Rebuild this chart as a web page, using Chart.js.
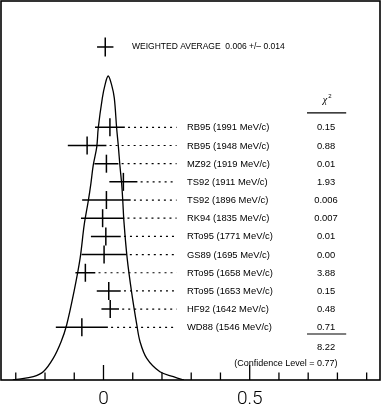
<!DOCTYPE html>
<html><head><meta charset="utf-8">
<script src="https://cdn.jsdelivr.net/npm/chart.js@4.4.0/dist/chart.umd.min.js"></script>
<style>html,body{margin:0;padding:0;background:#fff;overflow:hidden}#wrap{width:381px;height:407px}</style>
</head><body><div id="wrap"><canvas id="c" width="381" height="407"></canvas></div>
<script>
// ---- data ----
const labels = ["RB95 (1991 MeV/c)","RB95 (1948 MeV/c)","MZ92 (1919 MeV/c)","TS92 (1911 MeV/c)","TS92 (1896 MeV/c)","RK94 (1835 MeV/c)","RTo95 (1771 MeV/c)","GS89 (1695 MeV/c)","RTo95 (1658 MeV/c)","RTo95 (1653 MeV/c)","HF92 (1642 MeV/c)","WD88 (1546 MeV/c)"];
const centers = [0.022, -0.056, 0.010, 0.068, 0.010, -0.003, 0.008, 0.002, -0.062, 0.018, 0.023, -0.074];
const errors  = [0.051, 0.066, 0.041, 0.048, 0.083, 0.074, 0.051, 0.077, 0.034, 0.041, 0.030, 0.089];
const chi2    = ["0.15","0.88","0.01","1.93","0.006","0.007","0.01","0.00","3.88","0.15","0.48","0.71"];
const chi2Total = "8.22";
const confidenceText = "(Confidence Level = 0.77)";
const avgCenter = [0.006];
const avgHalfWidth = [0.028];
const avgText = "WEIGHTED AVERAGE  0.006 +/\u2013 0.014";
const curveX = [-0.31,-0.297,-0.240,-0.206,-0.172,-0.145,-0.126,-0.101,-0.080,-0.066,-0.052,-0.043,-0.035,-0.023,-0.018,-0.004,0.005,0.016,0.028,0.037,0.045,0.051,0.056,0.062,0.066,0.070,0.081,0.096,0.114,0.125,0.148,0.193,0.239,0.267,0.275];
const curveY = [0,0.002,0.011,0.027,0.071,0.126,0.181,0.290,0.400,0.510,0.589,0.647,0.707,0.767,0.828,0.927,0.970,1.0,0.970,0.927,0.828,0.767,0.707,0.647,0.589,0.520,0.400,0.290,0.181,0.126,0.071,0.027,0.011,0.002,0];
const tickValues = [-0.3,-0.2,-0.1,0,0.1,0.2,0.3,0.4,0.5,0.6,0.7,0.8,0.9];
const majorTicks = [0, 0.5];
const tickLabels = ["0","0.5"];

// ---- layout constants (positions in axis units) ----
const ROW_AVG = -4.42, LEADER_END = 0.25, LABEL_X = 0.2856, CHI_X = 0.761, CHI_L = 0.696, CHI_R = 0.830;

const bars = [], leaders = [], marks = [];
centers.forEach((c,i)=>{
  bars.push({x:c-errors[i],y:i},{x:c+errors[i],y:i},{x:c+errors[i],y:null});
  leaders.push({x:c+errors[i]+0.011,y:i},{x:LEADER_END,y:i},{x:LEADER_END,y:null});
  marks.push({x:c,y:i});
});
const avgBar = [{x:avgCenter[0]-avgHalfWidth[0],y:ROW_AVG},{x:avgCenter[0]+avgHalfWidth[0],y:ROW_AVG}];

const deco = {
  id:'deco',
  afterDraw(chart){
    const ctx = chart.ctx, a = chart.chartArea, X = chart.scales.x, Y = chart.scales.y;
    ctx.save();
    ctx.strokeStyle = '#000'; ctx.fillStyle = '#000';
    ctx.lineWidth = 1.6;
    ctx.strokeRect(a.left, a.top, a.right - a.left, a.bottom - a.top);
    ctx.lineWidth = 1.3;
    tickValues.forEach(v=>{
      const px = X.getPixelForValue(v);
      const len = majorTicks.includes(v) ? 15 : 7.5;
      ctx.beginPath(); ctx.moveTo(px, a.bottom); ctx.lineTo(px, a.bottom - len); ctx.stroke();
    });
    ctx.textBaseline = 'middle';
    ctx.font = '8.5px "Liberation Sans", Arial, sans-serif';
    ctx.textAlign = 'left';
    ctx.fillText(avgText, X.getPixelForValue(0.0975), Y.getPixelForValue(ROW_AVG));
    ctx.font = '9.4px "Liberation Sans", Arial, sans-serif';
    labels.forEach((l,i)=>{ ctx.fillText(l, X.getPixelForValue(LABEL_X), Y.getPixelForValue(i)+0.5); });
    ctx.textAlign = 'center';
    const cx = X.getPixelForValue(CHI_X);
    chi2.forEach((s,i)=>{ ctx.fillText(s, cx, Y.getPixelForValue(i)+0.5); });
    ctx.fillText(chi2Total, cx, Y.getPixelForValue(12.12));
    ctx.font = '9px "Liberation Sans", Arial, sans-serif';
    ctx.fillText(confidenceText, X.getPixelForValue(0.6237), Y.getPixelForValue(12.98));
    // chi^2 header
    ctx.font = 'italic 10px "Liberation Serif", serif';
    ctx.fillText('\u03c7', cx - 1, Y.getPixelForValue(-1.47));
    ctx.font = '6px "Liberation Sans", Arial, sans-serif';
    ctx.fillText('2', cx + 4, Y.getPixelForValue(-1.72));
    ctx.lineWidth = 1.2;
    [-0.8, 11.37].forEach(r=>{
      const py = Y.getPixelForValue(r);
      ctx.beginPath(); ctx.moveTo(X.getPixelForValue(CHI_L), py); ctx.lineTo(X.getPixelForValue(CHI_R), py); ctx.stroke();
    });
    ctx.restore();
  }
};

new Chart(document.getElementById('c'), {
  type: 'scatter',
  data: { datasets: [
    {type:'line', data: curveX.map((x,i)=>({x, y: curveY[i]})), yAxisID:'y2', borderColor:'#000', borderWidth:1.3, pointRadius:0, tension:0.35, fill:false},
    {type:'line', data: bars, yAxisID:'y', borderColor:'#000', borderWidth:1.5, pointRadius:0, spanGaps:false, tension:0},
    {type:'line', data: leaders, yAxisID:'y', borderColor:'#000', borderWidth:1.2, borderDash:[2,4], pointRadius:0, spanGaps:false, tension:0},
    {type:'scatter', data: marks, yAxisID:'y', pointStyle:'line', rotation:90, radius:9, borderColor:'#000', borderWidth:1.5, backgroundColor:'#000'},
    {type:'line', data: avgBar, yAxisID:'y', borderColor:'#000', borderWidth:1.5, pointRadius:0},
    {type:'scatter', data: [{x:avgCenter[0], y:ROW_AVG}], yAxisID:'y', pointStyle:'line', rotation:90, radius:9.5, borderColor:'#000', borderWidth:1.5}
  ]},
  options: {
    responsive:false, animation:false, devicePixelRatio:1,
    layout:{autoPadding:false, padding:{left:1,right:1,top:1,bottom:0}},
    plugins:{legend:{display:false}, tooltip:{enabled:false}},
    events:[],
    scales:{
      x:{type:'linear', position:'bottom', min:-0.3505, max:0.9456,
        grid:{display:false, drawTicks:false}, border:{display:false},
        afterBuildTicks(s){ s.ticks = majorTicks.map(v=>({value:v})); },
        afterFit(s){ s.height = 27; },
        ticks:{ autoSkip:false, maxRotation:0, padding:8, color:'#000',
          font:{family:'Roboto, "Liberation Sans", sans-serif', size:19, weight:'300'},
          callback(v){ const k = majorTicks.indexOf(v); return k>=0 ? tickLabels[k] : ''; } }
      },
      y:{type:'linear', reverse:true, min:-6.95, max:13.9, display:false},
      y2:{type:'linear', min:0, max:1.2467, display:false}
    }
  },
  plugins:[deco]
});
</script></body></html>
